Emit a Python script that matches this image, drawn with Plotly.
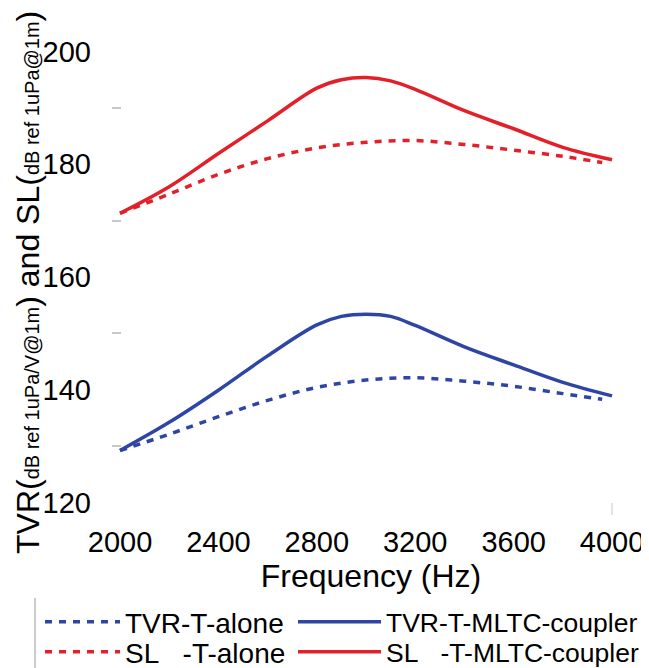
import plotly.graph_objects as go

# ---- data ----
freq_solid = [2000, 2200, 2400, 2600, 2800, 2900, 3000, 3100, 3200, 3400, 3600, 3800, 4000]
freq_dash = [2000, 2200, 2400, 2600, 2800, 3000, 3200, 3400, 3600, 3800, 3960]

tvr_alone = [129.2, 132.1, 135.2, 138.1, 140.4, 141.7, 142.1, 141.5, 140.6, 139.3, 138.3]
tvr_coupler = [129.2, 134.2, 139.9, 146.0, 151.5, 153.0, 153.4, 153.0, 151.4, 147.6, 144.4, 141.3, 138.9]
sl_alone = [171.3, 174.7, 178.2, 181.0, 182.9, 183.9, 184.2, 183.5, 182.5, 181.4, 180.3]
sl_coupler = [171.3, 176.0, 181.9, 187.7, 193.5, 195.0, 195.4, 194.8, 193.3, 189.5, 186.3, 183.0, 180.8]

x_ticks = [2000, 2400, 2800, 3200, 3600, 4000]
y_ticks = [120, 140, 160, 180, 200]

names = ["TVR-T-alone", "TVR-T-MLTC-coupler",
         "SL\u00a0\u00a0\u00a0-T-alone", "SL\u00a0\u00a0\u00a0-T-MLTC-coupler"]

BLUE = "#2f45a6"
RED = "#e3202a"
FONT = "Liberation Sans, Arial, sans-serif"

# page body adds an 8px margin, so figure coordinates = screen coordinates - 8
OFF = 8
L, R, T, B = 112 - OFF, 630 - OFF, 29 - OFF, 515 - OFF
PW, PH = R - L, B - T

fig = go.Figure()
fig.add_trace(go.Scatter(x=freq_dash, y=tvr_alone, mode="lines", name=names[0], legend="legend",
                         line=dict(color=BLUE, width=3.5, dash="7px,7px", shape="spline")))
fig.add_trace(go.Scatter(x=freq_solid, y=tvr_coupler, mode="lines", name=names[1], legend="legend2",
                         line=dict(color=BLUE, width=3.5, shape="spline")))
fig.add_trace(go.Scatter(x=freq_dash, y=sl_alone, mode="lines", name=names[2], legend="legend3",
                         line=dict(color=RED, width=3.5, dash="7px,7px", shape="spline")))
fig.add_trace(go.Scatter(x=freq_solid, y=sl_coupler, mode="lines", name=names[3], legend="legend4",
                         line=dict(color=RED, width=3.5, shape="spline")))

ytitle = ("TVR(<span style='font-size:20px'>dB ref 1uPa/V@1m</span>) and "
          "SL(<span style='font-size:20px'>dB ref 1uPa@1m</span>)")


def leg(x_px, y_px, iw, size):
    # x_px, y_px: figure pixel coordinates
    return dict(orientation="v", xref="paper", yref="paper",
                x=(x_px - L) / PW, y=(B - y_px) / PH, xanchor="left", yanchor="middle",
                font=dict(size=size, family=FONT), itemwidth=iw,
                bgcolor="rgba(0,0,0,0)")


fig.update_layout(
    width=649, height=668,
    margin=dict(l=L, r=649 - R, t=T, b=668 - B, autoexpand=False),
    paper_bgcolor="white", plot_bgcolor="white",
    font=dict(family=FONT, color="black", size=28),
    showlegend=True,
    legend=leg(32, 614, 75, 28), legend2=leg(285, 614, 83, 26.5),
    legend3=leg(32, 644, 75, 28), legend4=leg(285, 644, 83, 26.5),
    xaxis=dict(range=[1967.5, 4073], tickvals=x_ticks, showgrid=False, zeroline=False,
               showline=False, ticks="", ticklabelstandoff=7,
               tickfont=dict(size=29),
               title=dict(text="Frequency (Hz)", font=dict(size=32), standoff=0),
               minor=dict(tickvals=[4000], ticks="inside", ticklen=12,
                          tickcolor="#e4e4e4", tickwidth=1.5)),
    yaxis=dict(range=[117.76, 204.0], tickvals=y_ticks, showgrid=False, zeroline=False,
               showline=False, ticks="", ticklabelstandoff=20,
               tickfont=dict(size=29),
               minor=dict(tickvals=[130, 150, 170, 190], ticks="inside", ticklen=9,
                          tickcolor="#c8c8c8", tickwidth=1.5)),
)

fig.add_annotation(text=ytitle, textangle=-90, xref="paper", yref="paper",
                   x=(20 - L) / PW, y=(B - 275) / PH, xanchor="center", yanchor="middle",
                   showarrow=False, font=dict(size=32, family=FONT, color="black"))

fig.add_shape(type="line", xref="paper", yref="paper",
              x0=(27 - L) / PW, x1=(27 - L) / PW,
              y0=-(590 - B) / PH, y1=-(668 - B) / PH,
              line=dict(color="#bbbbbb", width=1.5))

fig.write_html("out.html")
